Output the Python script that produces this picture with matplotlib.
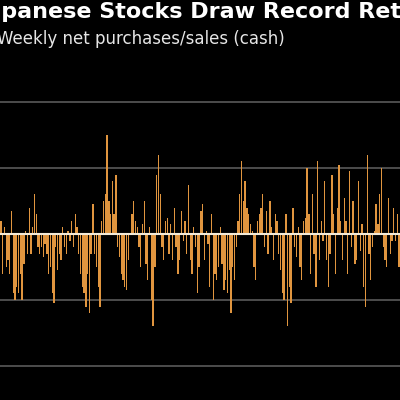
import matplotlib
matplotlib.use("Agg")
import matplotlib.pyplot as plt
import numpy as np

values = [
 0.2,-0.6,0.1,-0.5,-0.4,-0.6,0.35,-0.9,-1.0,-0.8,-0.9,-0.6,-1.0,-0.45,0.05,
 -0.3,0.4,-0.3,0.1,0.6,0.3,-0.2,-0.3,-0.2,-0.35,-0.15,-0.3,-0.6,
 -0.5,-0.9,-1.05,-0.2,-0.55,-0.3,-0.4,0.1,-0.2,-0.3,0.05,
 -0.1,0.2,-0.2,0.3,0.1,-0.3,-0.6,-0.8,-0.9,-1.1,-0.6,-1.2,-0.3,
 0.45,-0.3,-0.5,-0.8,-1.1,0.2,0.5,0.6,1.5,0.5,0.3,0.8,0.3,
 0.9,-0.2,-0.35,-0.6,-0.7,-0.8,-0.85,-0.4,0.0,0.3,0.5,0.2,0.1,
 -0.2,-0.5,0.15,0.5,-0.45,-0.7,0.1,-1.0,-1.4,-0.5,0.9,1.2,0.6,
 -0.2,-0.4,0.2,0.25,-0.3,0.15,-0.4,0.4,-0.2,-0.6,-0.4,0.35,
 -0.1,0.2,-0.3,0.75,-0.4,-0.6,0.1,-0.2,-0.9,-0.5,0.35,0.45,
 -0.4,0.05,-0.15,-0.8,0.3,-1.0,-0.6,-0.7,-0.5,0.1,-0.45,-0.85,-0.7,
 -0.9,-0.55,-1.2,-0.5,-0.7,-0.2,0.2,0.6,1.1,0.5,0.8,0.4,
 0.3,0.15,0.05,-0.5,-0.7,0.2,0.3,0.4,0.6,-0.2,0.35,-0.3,0.5,
 0.1,-0.4,0.3,0.2,-0.3,-0.55,-0.9,-1.0,0.3,-1.4,-0.8,-1.05,0.4,-0.2,
 -0.35,0.1,-0.5,-0.7,0.2,0.25,1.0,0.3,-0.6,0.6,-0.3,-0.8,1.1,
 -0.4,0.2,-0.1,0.8,-0.4,-0.8,-0.3,0.9,0.3,-0.6,0.4,1.05,
 0.2,-0.4,0.55,0.2,-0.6,0.95,-0.2,0.5,-0.45,-0.4,0.8,
 -0.25,0.15,-0.8,-1.1,1.2,-0.3,-0.7,-0.2,0.05,0.45,0.15,
 0.6,1.0,-0.2,-0.4,-0.5,0.55,-0.3,-0.1,0.4,-0.1,0.3,-0.5,
]

fig = plt.figure(figsize=(4, 4), dpi=100, facecolor="black")
ax = fig.add_axes([0, 0, 1, 305/400])
ax.set_facecolor("black")
x = np.arange(len(values))
ax.bar(x, values, width=0.75, color="#e0953f", linewidth=0)
ax.set_xlim(-0.5, len(values) - 0.5)
ax.set_ylim(-166/66, 139/66)
for g in [-2, -1, 1, 2]:
    ax.axhline(g, color="#5a5a5a", lw=1.2, zorder=0)
ax.axhline(0, color="#f3ead8", lw=1.5, zorder=3)
for s in ax.spines.values():
    s.set_visible(False)
ax.set_xticks([]); ax.set_yticks([])

fig.text(-0.055, 0.955, "Japanese Stocks Draw Record Retail", color="white",
         fontsize=16, fontweight="bold", va="baseline", ha="left")
fig.text(-0.008, 0.89, "Weekly net purchases/sales (cash)", color="#e6e6e6",
         fontsize=12, va="baseline", ha="left")
fig.savefig("out.png", dpi=100, facecolor="black")
